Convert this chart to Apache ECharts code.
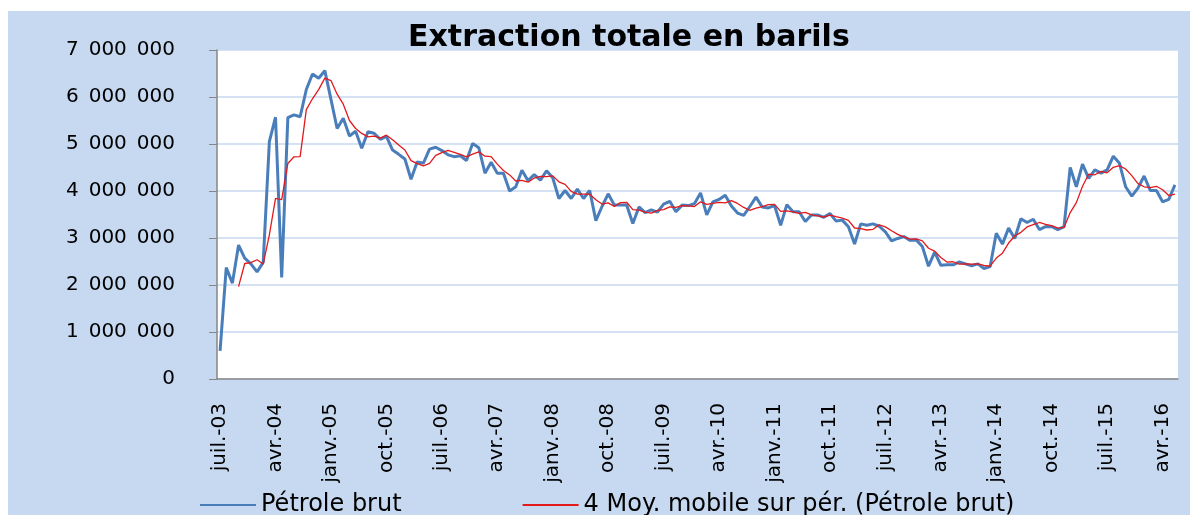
<!DOCTYPE html>
<html>
<head>
<meta charset="utf-8">
<script src="https://cdn.jsdelivr.net/npm/echarts@6/dist/echarts.min.js"></script>
<style>
  html, body { margin: 0; padding: 0; background: #fff; }
  #fond { position: absolute; left: 8px; top: 11px; width: 1182px; height: 504px; background: #c6d9f0; }
  #chart { position: absolute; left: 0; top: 0; width: 1198px; height: 515px; }
</style>
</head>
<body>
<div id="fond"></div>
<div id="chart"></div>
<script>
// mois en abrégé, comme dans Excel
const mois = ['janv.', 'févr.', 'mars', 'avr.', 'mai', 'juin', 'juil.', 'août', 'sept.', 'oct.', 'nov.', 'déc.'];
const moisDebut = 6;   // juil.
const anneeDebut = 3;  // 2003
const nbMois = 156;    // juil.-03 -> juin-16

// Pétrole brut, en millions de barils
const petrole = [
  0.60, 2.37, 2.04, 2.85, 2.57, 2.45, 2.28, 2.48, 5.05, 5.57,
  2.16, 5.56, 5.62, 5.58, 6.16, 6.49, 6.40, 6.56, 5.95, 5.33,
  5.55, 5.17, 5.27, 4.91, 5.26, 5.23, 5.10, 5.16, 4.87, 4.78,
  4.68, 4.25, 4.62, 4.59, 4.89, 4.93, 4.86, 4.77, 4.73, 4.75,
  4.65, 5.01, 4.92, 4.38, 4.61, 4.38, 4.38, 4.00, 4.09, 4.44,
  4.22, 4.35, 4.23, 4.43, 4.28, 3.84, 4.01, 3.84, 4.04, 3.84,
  4.01, 3.37, 3.67, 3.94, 3.70, 3.70, 3.70, 3.31, 3.66, 3.54,
  3.60, 3.55, 3.72, 3.78, 3.56, 3.70, 3.69, 3.73, 3.96, 3.49,
  3.77, 3.82, 3.91, 3.68, 3.53, 3.48, 3.67, 3.87, 3.66, 3.64,
  3.69, 3.27, 3.71, 3.56, 3.56, 3.35, 3.49, 3.49, 3.44, 3.52,
  3.36, 3.38, 3.24, 2.87, 3.30, 3.27, 3.30, 3.25, 3.13, 2.94,
  2.99, 3.03, 2.95, 2.96, 2.82, 2.40, 2.70, 2.42, 2.43, 2.43,
  2.49, 2.45, 2.41, 2.45, 2.35, 2.39, 3.10, 2.87, 3.21, 2.99,
  3.41, 3.33, 3.40, 3.18, 3.24, 3.24, 3.18, 3.24, 4.50, 4.09,
  4.57, 4.27, 4.45, 4.38, 4.45, 4.74, 4.59, 4.09, 3.89, 4.06,
  4.32, 4.01, 4.01, 3.77, 3.82, 4.13
];

const yTicks = [0, 1000000, 2000000, 3000000, 4000000, 5000000, 6000000, 7000000];

let categories = [];
for (let i = 0; i < nbMois; i++) {
  let m = (moisDebut + i) % 12;
  let a = anneeDebut + Math.floor((moisDebut + i) / 12);
  categories.push(mois[m] + '-' + String(a).padStart(2, '0'));
}

let brut = petrole.map(v => Math.round(v * 1000000));

// courbe de tendance Excel : moyenne mobile sur 4 périodes
let moyenne = brut.map((v, i) => {
  if (i < 3) return '-';
  return (brut[i] + brut[i - 1] + brut[i - 2] + brut[i - 3]) / 4;
});

function espaces(v) {
  return String(v).replace(/\B(?=(\d{3})+(?!\d))/g, '\u2002');
}

const chart = echarts.init(document.getElementById('chart'));
chart.setOption({
  backgroundColor: 'transparent',
  animation: false,
  title: {
    text: 'Extraction totale en barils',
    left: 403,
    top: 18,
    textStyle: { fontFamily: 'DejaVu Sans', fontSize: 30, fontWeight: 'bold', color: '#000' }
  },
  legend: {
    left: 194,
    top: 488,
    itemWidth: 56,
    itemHeight: 12,
    itemGap: 120,
    itemStyle: { opacity: 0 },
    textStyle: { fontFamily: 'DejaVu Sans', fontSize: 24, color: '#000' },
    data: ['Pétrole brut', '4 Moy. mobile sur pér. (Pétrole brut)']
  },
  grid: {
    left: 217,
    right: 20,
    top: 50,
    bottom: 136,
    show: true,
    backgroundColor: '#fff',
    borderWidth: 0
  },
  xAxis: {
    type: 'category',
    data: categories,
    axisLine: { lineStyle: { color: '#868686', width: 1.5 } },
    axisTick: { interval: 8, length: 6, lineStyle: { color: '#868686' } },
    axisLabel: {
      interval: 8,
      rotate: 90,
      margin: 24,
      fontFamily: 'DejaVu Sans',
      fontSize: 20,
      color: '#000'
    }
  },
  yAxis: {
    type: 'value',
    min: yTicks[0],
    max: yTicks[yTicks.length - 1],
    interval: 1000000,
    axisLine: { show: true, lineStyle: { color: '#868686', width: 1.5 } },
    axisTick: { show: true, length: 8, lineStyle: { color: '#868686' } },
    splitLine: { lineStyle: { color: '#c6d9f0', width: 1.5 } },
    axisLabel: {
      margin: 42,
      fontFamily: 'DejaVu Sans',
      fontSize: 20,
      color: '#000',
      formatter: v => espaces(v)
    }
  },
  series: [
    {
      name: 'Pétrole brut',
      type: 'line',
      data: brut,
      symbol: 'none',
      lineStyle: { color: '#4a7ebb', width: 3 },
      itemStyle: { color: '#4a7ebb' }
    },
    {
      name: '4 Moy. mobile sur pér. (Pétrole brut)',
      type: 'line',
      data: moyenne,
      symbol: 'none',
      lineStyle: { color: '#e3191c', width: 1.3 },
      itemStyle: { color: '#e3191c' }
    }
  ]
});
</script>
</body>
</html>
